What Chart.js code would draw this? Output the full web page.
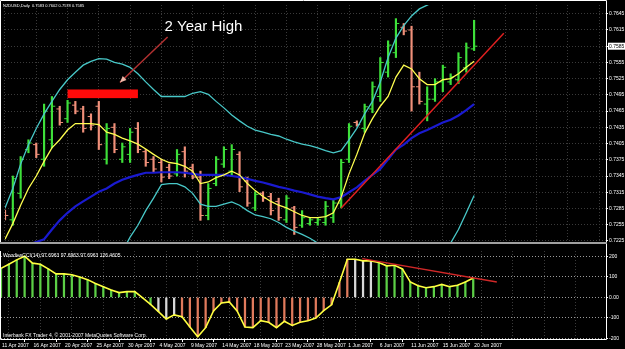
<!DOCTYPE html>
<html><head><meta charset="utf-8">
<script src="https://cdn.jsdelivr.net/npm/chart.js@4.4.1/dist/chart.umd.min.js"></script>
<style>
html,body{margin:0;padding:0;background:#000;}
#wrap{position:relative;width:625px;height:349px;background:#000;overflow:hidden;}
#main{position:absolute;left:0;top:0;}
#ind{position:absolute;left:0;top:247px;}
</style></head><body>
<div id="wrap">
<canvas id="main" width="625" height="247"></canvas>
<canvas id="ind" width="625" height="102"></canvas>
</div>
<script>
// ---- data (NZDUSD daily) ----
const dates = ['11 Apr 2007','12 Apr 2007','13 Apr 2007','15 Apr 2007','16 Apr 2007','17 Apr 2007','18 Apr 2007','19 Apr 2007','20 Apr 2007','22 Apr 2007','23 Apr 2007','24 Apr 2007','25 Apr 2007','26 Apr 2007','27 Apr 2007','29 Apr 2007','30 Apr 2007','1 May 2007','2 May 2007','3 May 2007','4 May 2007','6 May 2007','7 May 2007','8 May 2007','9 May 2007','10 May 2007','11 May 2007','13 May 2007','14 May 2007','15 May 2007','16 May 2007','17 May 2007','18 May 2007','20 May 2007','21 May 2007','22 May 2007','23 May 2007','24 May 2007','25 May 2007','27 May 2007','28 May 2007','29 May 2007','30 May 2007','31 May 2007','1 Jun 2007','3 Jun 2007','4 Jun 2007','5 Jun 2007','6 Jun 2007','7 Jun 2007','8 Jun 2007','10 Jun 2007','11 Jun 2007','12 Jun 2007','13 Jun 2007','14 Jun 2007','15 Jun 2007','17 Jun 2007','18 Jun 2007','19 Jun 2007','20 Jun 2007'];
const opens  = [.7279,.7264,.7313,.7394,.7403,.7376,.7412,.7469,.7451,.7476,.7469,.7455,.7474,.7376,.7435,.7376,.7385,.7433,.7390,.7376,.7370,.7361,.7349,.7390,.7361,.7343,.7272,.7331,.7367,.7354,.7385,.7336,.7286,.7313,.7307,.7298,.7264,.7286,.7254,.7257,.7259,.7259,.7268,.7295,.7376,.7444,.7433,.7469,.7492,.7537,.7573,.7620,.7615,.7510,.7478,.7487,.7519,.7519,.7523,.7545,.7580];
const highs  = [.7282,.7345,.7381,.7412,.7406,.7478,.7492,.7474,.7485,.7483,.7474,.7460,.7483,.7442,.7442,.7406,.7433,.7444,.7394,.7381,.7376,.7367,.7394,.7399,.7367,.7354,.7331,.7381,.7399,.7403,.7390,.7343,.7316,.7316,.7313,.7304,.7309,.7289,.7281,.7268,.7268,.7298,.7300,.7376,.7442,.7447,.7478,.7519,.7564,.7595,.7636,.7627,.7622,.7537,.7510,.7525,.7550,.7534,.7573,.7591,.7633];
const lows   = [.7264,.7254,.7304,.7388,.7379,.7363,.7397,.7439,.7444,.7460,.7426,.7430,.7394,.7367,.7388,.7370,.7370,.7388,.7363,.7352,.7334,.7340,.7345,.7343,.7340,.7263,.7264,.7327,.7361,.7345,.7316,.7289,.7281,.7298,.7273,.7263,.7259,.7237,.7250,.7254,.7254,.7254,.7259,.7286,.7370,.7437,.7426,.7462,.7483,.7528,.7564,.7606,.7465,.7478,.7447,.7483,.7501,.7514,.7516,.7537,.7577];
const closes = [.7272,.7340,.7376,.7406,.7385,.7465,.7474,.7444,.7480,.7465,.7433,.7439,.7403,.7433,.7394,.7399,.7426,.7394,.7370,.7358,.7343,.7345,.7385,.7354,.7343,.7272,.7322,.7376,.7394,.7394,.7325,.7295,.7311,.7304,.7281,.7268,.7304,.7250,.7268,.7264,.7264,.7289,.7295,.7370,.7437,.7440,.7473,.7510,.7555,.7587,.7627,.7613,.7510,.7483,.7487,.7519,.7546,.7528,.7564,.7582,.7585];
const maFast = [.7228,.7257,.7291,.7322,.7345,.7372,.7397,.7412,.7430,.7442,.7442,.7442,.7440,.7426,.7422,.7415,.7410,.7404,.7395,.7385,.7376,.7370,.7368,.7363,.7354,.7331,.7334,.7342,.7347,.7354,.7347,.7331,.7318,.7307,.7298,.7291,.7286,.7279,.7272,.7268,.7268,.7270,.7277,.7306,.7349,.7385,.7424,.7451,.7474,.7492,.7528,.7550,.7543,.7525,.7514,.7514,.7523,.7525,.7534,.7546,.7557];
const maSlow = [.7196,.7203,.7210,.7218,.7223,.7228,.7246,.7263,.7277,.7289,.7298,.7307,.7316,.7322,.7331,.7338,.7343,.7347,.7351,.7351,.7352,.7352,.7352,.7351,.7349,.7347,.7347,.7347,.7347,.7345,.7343,.7340,.7336,.7333,.7329,.7325,.7322,.7318,.7315,.7311,.7307,.7304,.7302,.7306,.7315,.7324,.7336,.7347,.7358,.7376,.7394,.7403,.7415,.7424,.7430,.7437,.7444,.7449,.7457,.7467,.7478];
const bandUpper = [.7286,.7322,.7367,.7403,.7433,.7460,.7483,.7505,.7523,.7537,.7550,.7557,.7562,.7561,.7555,.7552,.7546,.7534,.7519,.7505,.7492,.7492,.7492,.7492,.7498,.7501,.7496,.7483,.7471,.7458,.7447,.7437,.7430,.7426,.7422,.7419,.7413,.7408,.7404,.7401,.7397,.7392,.7388,.7392,.7412,.7433,.7460,.7483,.7519,.7564,.7600,.7623,.7641,.7654,.7661,.7668,.7674,.7679,.7685,.7688,.7692];
const bandLower = [.7079,.7074,.7070,.7067,.7065,.7065,.7067,.7070,.7076,.7083,.7092,.7106,.7124,.7151,.7178,.7205,.7232,.7254,.7281,.7304,.7329,.7331,.7331,.7325,.7313,.7293,.7289,.7289,.7293,.7297,.7291,.7281,.7273,.7270,.7266,.7259,.7250,.7243,.7237,.7230,.7221,.7210,.7200,.7182,.7151,.7124,.7103,.7085,.7070,.7061,.7060,.7063,.7074,.7092,.7115,.7142,.7175,.7221,.7246,.7277,.7309];
const priceTicks = [0.7225,0.7255,0.7285,0.7315,0.7345,0.7375,0.7405,0.7435,0.7465,0.7495,0.7525,0.7555,0.7585,0.7615,0.7645];
const cci = [141,161,182,200,166,161,138,114,114,110,99,86,67,52,36,23,28,28,-3,-34,-69,-105,-85,-94,-144,-191,-147,-66,-27,-22,-66,-144,-147,-113,-121,-147,-116,-136,-121,-113,-100,-64,-36,72,185,185,177,177,169,153,156,138,75,56,47,52,63,52,59,75,94];
// trend state of the CCI histogram: 1 up-trend, 0 neutral, -1 down-trend
const cciState = [1,1,1,1,1,1,1,1,1,1,1,1,1,1,1,1,1,1,1,1,0,0,0,-1,-1,-1,-1,-1,-1,-1,-1,-1,-1,-1,-1,-1,-1,-1,-1,-1,-1,-1,-1,-1,-1,0,0,0,1,1,1,1,1,1,1,1,1,1,1,1,1];
const cciTicks = [-200,-100,0,100,200];
const priceTrend = [{x:43,y:0.7286},{x:63.8,y:0.7609}];
const cciTrend = [{x:45.9,y:188},{x:63,y:75}];
const highBox = {x0:8, x1:17, yTop:0.7505, yBot:0.7489};
const note = {text:'2 Year High', x:20.4, y:0.7613};
const arrow = {x0:20.8, y0:0.7602, x1:14.7, y1:0.7518};
const header = 'NZDUSD,Daily  0.7583 0.7602 0.7578 0.7585';
const cciTitle = 'WoodiesCCI(14) 97.6963 97.6963 97.6963 126.4605';
const footer = 'Interbank FX Trader 4, \u00a9 2001-2007 MetaQuotes Software Corp.';

// ---- styling ----
Chart.defaults.font.family = '"Liberation Sans", Arial, sans-serif';
const UP = '#3ee03a', DOWN = '#f0907a';
const GRID = '#3a3a3a';
const XMAX = 76.87;
const barCol = closes.map((c,i)=> c>=opens[i] ? UP : DOWN);
const gridBars = []; for (let v=2; v<XMAX; v+=4) gridBars.push(v);

const mainPlugin = {
  id:'mainDeco',
  afterDatasetsDraw(chart){
    const {ctx, chartArea:a, scales:{x,y}} = chart;
    ctx.save();
    const bx0 = x.getPixelForValue(highBox.x0), bx1 = x.getPixelForValue(highBox.x1);
    const by0 = y.getPixelForValue(highBox.yTop), by1 = y.getPixelForValue(highBox.yBot);
    ctx.fillStyle = '#ff0a0a';
    ctx.fillRect(bx0, by0, bx1-bx0, by1-by0);
    const ax0 = x.getPixelForValue(arrow.x0), ay0 = y.getPixelForValue(arrow.y0);
    const ax1 = x.getPixelForValue(arrow.x1), ay1 = y.getPixelForValue(arrow.y1);
    ctx.strokeStyle = '#b03030'; ctx.lineWidth = 1.5;
    ctx.beginPath(); ctx.moveTo(ax0, ay0); ctx.lineTo(ax1, ay1); ctx.stroke();
    const ang = Math.atan2(ay1-ay0, ax1-ax0);
    ctx.fillStyle = '#f0b8a8';
    ctx.beginPath();
    ctx.moveTo(ax1, ay1);
    ctx.lineTo(ax1 - 7*Math.cos(ang-0.4), ay1 - 7*Math.sin(ang-0.4));
    ctx.lineTo(ax1 - 7*Math.cos(ang+0.4), ay1 - 7*Math.sin(ang+0.4));
    ctx.closePath(); ctx.fill();
    ctx.fillStyle = '#ffffff';
    ctx.font = '15px "Liberation Sans", Arial, sans-serif';
    ctx.textBaseline = 'alphabetic'; ctx.textAlign = 'left';
    ctx.fillText(note.text, x.getPixelForValue(note.x), y.getPixelForValue(note.y));
    ctx.font = '4px "Liberation Sans", Arial, sans-serif';
    ctx.fillText(header, 3, 7);
    ctx.restore();
  },
  afterDraw(chart){
    const {ctx, chartArea:a, scales:{y}} = chart;
    ctx.save();
    ctx.strokeStyle = '#ffffff'; ctx.lineWidth = 1;
    ctx.beginPath();
    ctx.moveTo(0.5, a.bottom); ctx.lineTo(0.5, 0.5); ctx.lineTo(a.right+0.5, 0.5); ctx.lineTo(a.right+0.5, chart.height);
    ctx.stroke();
    ctx.fillStyle = '#a0a0a0';
    ctx.fillRect(0, a.bottom, a.right+1, 2);
    const cy = y.getPixelForValue(closes[closes.length-1]);
    ctx.fillStyle = '#ffffff';
    ctx.fillRect(a.right+2, cy-3.5, 18, 7);
    ctx.fillStyle = '#000000';
    ctx.font = '5px "Liberation Sans", Arial, sans-serif';
    ctx.textBaseline = 'middle';
    ctx.fillText(closes[closes.length-1].toFixed(4), a.right+3, cy+0.5);
    ctx.restore();
  }
};

new Chart(document.getElementById('main'), {
  type:'line',
  data:{datasets:[
    {type:'line', data: priceTrend, borderColor:'#e02020', borderWidth:1.5, pointRadius:0},
    {type:'line', data: maFast.map((v,i)=>({x:i,y:v})), borderColor:'#ffff50', borderWidth:1.3, pointRadius:0, tension:0},
    {type:'line', data: bandUpper.map((v,i)=>({x:i,y:v})), borderColor:'#48c8c8', borderWidth:1.3, pointRadius:0, tension:0},
    {type:'line', data: bandLower.map((v,i)=>({x:i,y:v})), borderColor:'#48c8c8', borderWidth:1.3, pointRadius:0, tension:0},
    {type:'line', data: maSlow.map((v,i)=>({x:i,y:v})), borderColor:'#1a1ad0', borderWidth:2.2, pointRadius:0, tension:0},
    {type:'line', showLine:false, data: opens.map((v,i)=>({x:i-0.22,y:v})), pointStyle:'line', pointRadius:1.6, pointBorderWidth:1, pointBorderColor: barCol, pointBackgroundColor: barCol},
    {type:'line', showLine:false, data: closes.map((v,i)=>({x:i+0.22,y:v})), pointStyle:'line', pointRadius:1.6, pointBorderWidth:1, pointBorderColor: barCol, pointBackgroundColor: barCol},
    {type:'bar', data: highs.map((h,i)=>({x:i,y:[lows[i],h]})), backgroundColor: barCol, barThickness:1.5, grouped:false}
  ]},
  options:{
    responsive:false, animation:false, events:[],
    layout:{padding:{left:1, top:1, right:0, bottom:2}},
    plugins:{legend:{display:false}, tooltip:{enabled:false}},
    scales:{
      x:{type:'linear', min:0, max:XMAX, offset:false,
         afterBuildTicks:s=>{ s.ticks = gridBars.map(v=>({value:v})); },
         ticks:{display:false}, grid:{color:GRID, drawTicks:false}, border:{display:false, dash:[1,2]},
         afterFit:s=>{ s.height = 0; }},
      y:{type:'linear', position:'right', min:0.72230, max:0.76612,
         afterBuildTicks:s=>{ s.ticks = priceTicks.map(v=>({value:v})); },
         ticks:{color:'#ffffff', font:{size:5}, padding:1, autoSkip:false, callback:v=>Number(v).toFixed(4)},
         grid:{color:GRID, drawTicks:true, tickLength:2, tickColor:'#ffffff'}, border:{display:false, dash:[1,2]},
         afterFit:s=>{ s.width = 19; }}
    }
  },
  plugins:[mainPlugin]
});

const stateCol = s => s>0 ? '#5ccf46' : (s<0 ? '#e07a5c' : '#d8d8d8');

const indPlugin = {
  id:'indDeco',
  afterDatasetsDraw(chart){
    const {ctx, chartArea:a} = chart;
    ctx.save();
    ctx.fillStyle = '#ffffff';
    ctx.font = '5px "Liberation Sans", Arial, sans-serif';
    ctx.textBaseline = 'alphabetic';
    ctx.fillText(cciTitle, 3, a.top+6);
    ctx.fillText(footer, 3, a.bottom-2);
    ctx.restore();
  },
  afterDraw(chart){
    const {ctx, chartArea:a} = chart;
    ctx.save();
    ctx.strokeStyle = '#ffffff'; ctx.lineWidth = 1;
    ctx.beginPath();
    ctx.moveTo(0.5, a.top); ctx.lineTo(0.5, a.bottom+0.5); ctx.lineTo(a.right+0.5, a.bottom+0.5);
    ctx.moveTo(a.right+0.5, 0); ctx.lineTo(a.right+0.5, a.bottom+0.5);
    ctx.stroke();
    ctx.restore();
  }
};

const xTicks = []; for (let v=0; v<XMAX; v+=2) xTicks.push(v);
new Chart(document.getElementById('ind'), {
  type:'line',
  data:{datasets:[
    {type:'line', data: cciTrend, borderColor:'#d02828', borderWidth:1.5, pointRadius:0},
    {type:'line', data: cci.map((v,i)=>({x:i,y:v})), borderColor:'#ffff40', borderWidth:1.6, pointRadius:0, tension:0},
    {type:'bar', data: cci.map((v,i)=>({x:i,y:v})), backgroundColor: cciState.map(stateCol), barThickness:1.6, grouped:false}
  ]},
  options:{
    responsive:false, animation:false, events:[],
    layout:{padding:{left:1, top:1, right:0, bottom:0}},
    plugins:{legend:{display:false}, tooltip:{enabled:false}},
    scales:{
      x:{type:'linear', min:0, max:XMAX, offset:false,
         afterBuildTicks:s=>{ s.ticks = xTicks.map(v=>({value:v})); },
         ticks:{color:'#ffffff', font:{size:5}, align:'start', autoSkip:false, maxRotation:0, padding:1, labelOffset:1,
                callback:v=> (v%4===0 && dates[v]) ? dates[v] : ''},
         grid:{color:c=> (c.tick && c.tick.value%4===2) ? GRID : 'rgba(0,0,0,0)',
               tickColor:c=> (c.tick && c.tick.value%4===0 && c.tick.value<dates.length) ? '#ffffff' : 'rgba(0,0,0,0)',
               tickLength:3, drawTicks:true},
         border:{display:false, dash:[1,2]},
         afterFit:s=>{ s.height = 10; }},
      y:{type:'linear', position:'right', min:-202, max:225,
         afterBuildTicks:s=>{ s.ticks = cciTicks.map(v=>({value:v})); },
         ticks:{color:'#ffffff', font:{size:5}, padding:1, autoSkip:false, callback:v=> v===0 ? '0.00' : String(v)},
         grid:{color:'#9a9a9a', drawTicks:true, tickLength:2, tickColor:'#ffffff'}, border:{display:false, dash:[1,2]},
         afterFit:s=>{ s.width = 19; }}
    }
  },
  plugins:[indPlugin]
});
</script>
</body></html>
